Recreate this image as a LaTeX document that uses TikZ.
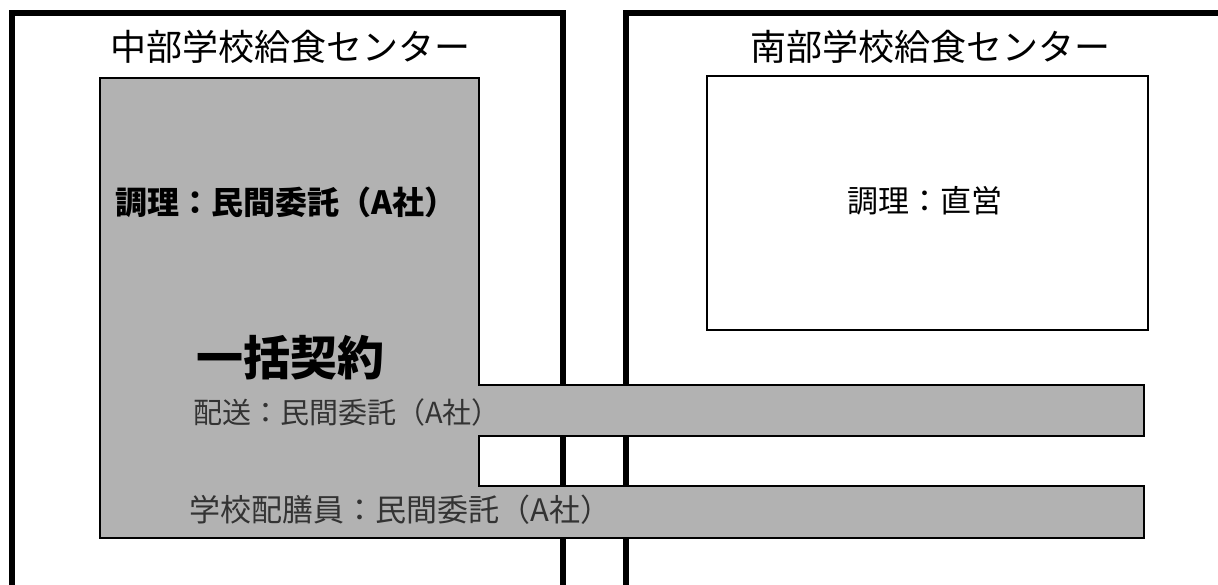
\documentclass[tikz,border=0pt]{standalone}
\usepackage{fontspec}
\setmainfont{Noto Sans CJK JP}
\definecolor{screen}{gray}{0.7}
\tikzset{
  outerline/.style={line width=5.5pt, line join=miter, draw=black},
  thinbox/.style={line width=1.6pt, draw=black},
  shaded/.style={thinbox, fill=screen},
  lbl/.style={inner sep=0pt, text=black},
}
\begin{document}
\begin{tikzpicture}[x=1pt, y=-1pt]
\useasboundingbox (0,0) rectangle (1218,584);
\clip (0,0) rectangle (1218,584);
% outer centre frames (open at the bottom)
\draw[outerline] (12,600) -- (12,13) -- (563,13) -- (563,600);
\draw[outerline] (626,600) -- (626,13) -- (1240,13);
% titles
\node[lbl, font=\fontsize{36}{40}\selectfont] (t1) at (290,47) {中部学校給食センター};
\node[lbl, font=\fontsize{36}{40}\selectfont] (t2) at (930,47) {南部学校給食センター};
% shaded contract area (A社)
\draw[shaded] (100,78) -- (479,78) -- (479,385) -- (1144,385) -- (1144,436)
  -- (479,436) -- (479,486) -- (1144,486) -- (1144,538) -- (100,538) -- cycle;
% right cooking box
\draw[thinbox, fill=white] (707,76) rectangle (1148,330);
% labels
\node[lbl, font=\bfseries\fontsize{32}{34}\selectfont] (c1) at (286,202) {調理：民間委託（A社）};
\node[lbl, font=\fontsize{31}{34}\selectfont] (c2) at (925,201) {調理：直営};
\node[lbl, font=\bfseries\fontsize{47}{50}\selectfont] (ik) at (290,358) {一括契約};
\node[lbl, anchor=west, text=black!80, font=\fontsize{29}{32}\selectfont] (hs) at (193,412) {配送：民間委託（A社）};
\node[lbl, anchor=west, text=black!80, font=\fontsize{31}{34}\selectfont] (hz) at (189,510) {学校配膳員：民間委託（A社）};
\end{tikzpicture}
\end{document}
